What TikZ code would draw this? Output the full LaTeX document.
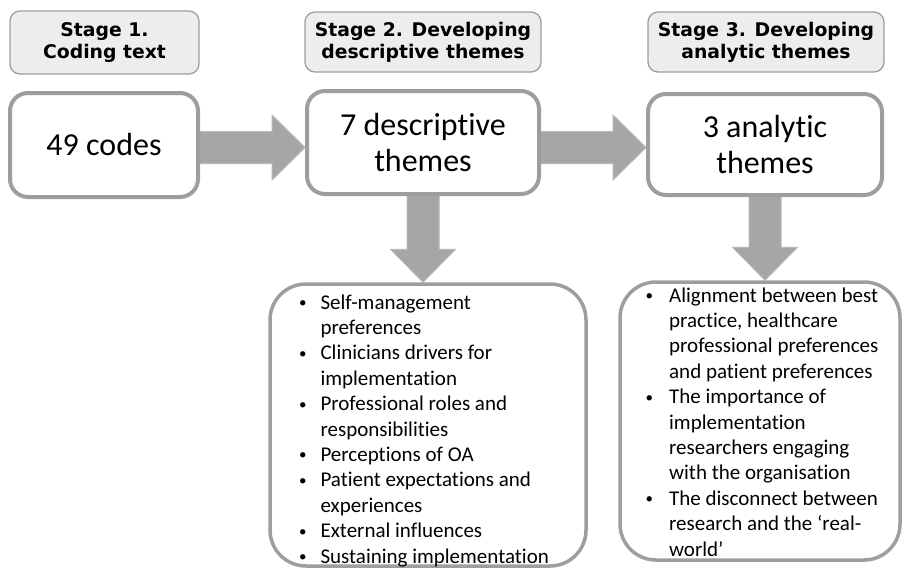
\documentclass[tikz,border=0pt]{standalone}
\usepackage{fontspec}
\setmainfont{Carlito}[Ligatures={TeX,NoCommon}]
\newfontfamily\stagefont{DejaVu Sans}
\usepackage{tikz}
\usetikzlibrary{calc,backgrounds}

\definecolor{boxgray}{RGB}{158,158,158}
\definecolor{arrowgray}{RGB}{166,166,166}
\definecolor{stagefill}{RGB}{237,237,237}

\newcommand\dotmark{\raisebox{1.5pt}{\fontsize{15}{15}\selectfont\textbullet}}

\tikzset{
	stagebox/.style={draw=boxgray, fill=stagefill, line width=1.3pt, rounded corners=10pt, minimum height=60pt, align=center, font=\stagefont\bfseries\fontsize{18.8}{22}\selectfont},
	countbox/.style={draw=boxgray, fill=white, line width=4pt, rounded corners=18pt, align=center, font=\fontsize{32}{36}\selectfont},
	listbox/.style={draw=boxgray, fill=white, line width=3.5pt, rounded corners=36pt},
	listtext/.style={font=\fontsize{21}{25.4}\selectfont, inner sep=0pt},
	fatarrow/.style={fill=arrowgray, draw=arrowgray!80!white, line width=1pt}
}

\newcommand\blockarrow[2]{%
	\coordinate (hb) at ($(#2)!33pt!(#1)$);
	\filldraw[fatarrow] ($(#1)!16pt!90:(#2)$) -- ($(hb)!16pt!90:(#2)$) -- ($(hb)!32.5pt!90:(#2)$) -- (#2)
		-- ($(hb)!32.5pt!-90:(#2)$) -- ($(hb)!16pt!-90:(#2)$) -- ($(#1)!16pt!-90:(#2)$) -- cycle;
}

\begin{document}
\begin{tikzpicture}[x=1pt, y=-1pt]
    \useasboundingbox (0,0) rectangle (905,574);

    \node[stagebox, minimum width=189pt, minimum height=63pt] (s1) at (104.5,42.5) {Stage 1.\\Coding text};
    \node[stagebox, minimum width=236pt] (s2) at (423,42) {Stage 2. Developing\\descriptive themes};
    \node[stagebox, minimum width=236pt] (s3) at (766,42) {Stage 3. Developing\\analytic themes};

    \node[countbox, minimum width=188pt, minimum height=104pt] (c1) at (104,145) {49 codes};
    \node[countbox, minimum width=232pt, minimum height=103pt] (c2) at (423,142.5) {7 descriptive\\themes};
    \node[countbox, minimum width=234pt, minimum height=101pt] (c3) at (765,144.5) {3 analytic\\themes};

    \node[listbox, minimum width=316pt, minimum height=282pt] (l1) at (428,425) {};
    \node[listbox, minimum width=280pt, minimum height=278pt] (l2) at (760,421) {};

    \node[listtext] (t1) at ($(l1)+(-4,6)$) {%
	\begin{tabular}{@{}l@{\hspace{14pt}}l@{}}
	\dotmark & Self-management\\
	 & preferences\\
	\dotmark & Clinicians drivers for\\
	 & implementation\\
	\dotmark & Professional roles and\\
	 & responsibilities\\
	\dotmark & Perceptions of OA\\
	\dotmark & Patient expectations and\\
	 & experiences\\
	\dotmark & External influences\\
	\dotmark & Sustaining implementation
	\end{tabular}};
    \node[listtext] (t2) at ($(l2)+(2,3)$) {%
	\begin{tabular}{@{}l@{\hspace{16pt}}l@{}}
	\dotmark & Alignment between best\\
	 & practice, healthcare\\
	 & professional preferences\\
	 & and patient preferences\\
	\dotmark & The importance of\\
	 & implementation\\
	 & researchers engaging\\
	 & with the organisation\\
	\dotmark & The disconnect between\\
	 & research and the ‘real-\\
	 & world’
	\end{tabular}};

    \coordinate (mid) at (0,147.5);
    \begin{pgfonlayer}{background}
	\blockarrow{c1 |- mid}{c2.west |- mid}
	\blockarrow{c2 |- mid}{c3.west |- mid}
	\blockarrow{c2}{c2 |- l1.north}
	\blockarrow{c3}{c3 |- l2.north}
    \end{pgfonlayer}
\end{tikzpicture}
\end{document}
